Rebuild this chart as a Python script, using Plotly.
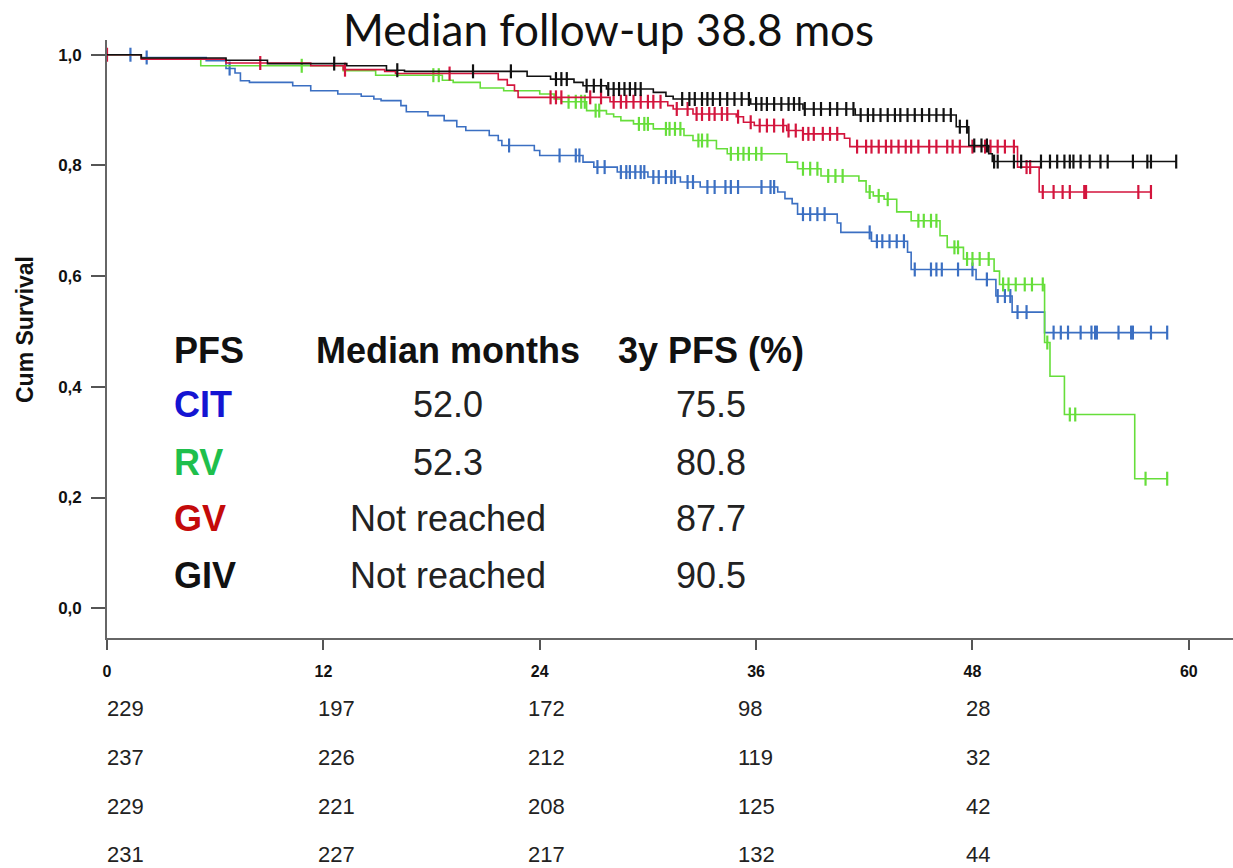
import bisect
import plotly.graph_objects as go

# ---------------- data ----------------
groups = ["CIT", "RV", "GV", "GIV"]
line_colors = ["#3b6fc2", "#66de3a", "#d3153d", "#111111"]
label_colors = ["#1414d2", "#1fbf4c", "#c40a0a", "#111111"]

cit_t = [0, 1.9, 5.5, 6.6, 7.1, 7.4, 7.9, 10.3, 11.3, 12.8, 14.1, 14.8, 15.2, 16.3, 16.6, 17.8, 18.7,
         19.4, 19.9, 21.2, 21.7, 21.9, 23.7, 24.0, 26.4, 27.0, 28.3, 30.0, 31.8, 32.9, 37.2, 37.6,
         38.0, 38.3, 40.5, 40.7, 42.4, 44.4, 44.6, 48.2, 49.3, 50.2, 52.0]
cit_s = [1.0, 0.995, 0.989, 0.975, 0.967, 0.953, 0.950, 0.944, 0.935, 0.929, 0.925, 0.920, 0.917, 0.908,
         0.897, 0.890, 0.881, 0.870, 0.863, 0.854, 0.845, 0.836, 0.827, 0.818, 0.806, 0.797, 0.788,
         0.779, 0.770, 0.761, 0.752, 0.740, 0.731, 0.712, 0.696, 0.679, 0.663, 0.643, 0.612, 0.594,
         0.564, 0.535, 0.498]
cit_cens = [1.3, 2.2, 6.8, 22.3, 25.1, 26.0, 26.2, 27.2, 27.6, 28.5, 28.8, 29.0, 29.3, 29.6, 29.8, 30.3,
            30.6, 31.0, 31.3, 31.5, 32.2, 32.5, 33.3, 33.7, 34.3, 34.6, 35.0, 36.3, 36.8, 37.0, 38.6,
            39.0, 39.4, 39.8, 42.3, 42.7, 43.0, 43.4, 43.8, 44.2, 44.8, 45.7, 46.0, 46.3, 47.2, 48.0,
            48.8, 49.4, 49.8, 50.1, 50.5, 51.0, 52.5, 52.9, 53.3, 54.0, 54.6, 54.8, 54.9, 56.1, 56.8,
            56.9, 57.9, 58.8]

rv_t = [0, 1.9, 5.2, 13.1, 14.9, 18.6, 19.2, 20.7, 22.0, 24.0, 24.8, 25.2, 26.6, 27.7, 28.1, 28.5, 29.2,
        30.3, 32.0, 32.5, 33.8, 34.4, 37.7, 38.3, 39.6, 41.7, 42.1, 42.5, 43.1, 43.8, 44.6, 46.2, 46.6,
        47.5, 49.2, 49.5, 52.0, 52.3, 53.1, 57.0]
rv_s = [1.0, 0.993, 0.980, 0.971, 0.963, 0.954, 0.950, 0.940, 0.935, 0.929, 0.920, 0.915, 0.899, 0.893,
        0.888, 0.881, 0.875, 0.866, 0.854, 0.845, 0.830, 0.821, 0.806, 0.794, 0.781, 0.772, 0.752,
        0.745, 0.739, 0.716, 0.700, 0.673, 0.652, 0.631, 0.609, 0.585, 0.480, 0.419, 0.350, 0.234]
rv_cens = [10.8, 18.1, 18.4, 25.6, 26.0, 26.3, 26.5, 27.1, 27.3, 29.5, 29.8, 30.0, 31.0, 31.2, 31.5, 31.8,
           32.8, 33.0, 33.3, 34.6, 35.0, 35.3, 35.6, 36.0, 36.3, 38.6, 39.0, 39.4, 40.0, 40.4, 40.8,
           42.3, 42.8, 43.3, 45.0, 45.3, 45.7, 46.0, 47.0, 47.2, 47.7, 48.0, 48.4, 48.9, 49.7, 50.0,
           50.4, 50.9, 51.3, 51.9, 52.15, 53.4, 53.7, 57.6, 58.8]

gv_t = [0, 1.9, 6.6, 11.3, 13.1, 15.4, 16.0, 21.7, 22.2, 22.6, 22.8, 27.9, 31.1, 31.4, 32.5, 34.9, 35.3,
        35.9, 37.7, 38.6, 40.9, 41.2, 50.5, 51.7]
gv_s = [1.0, 0.992, 0.985, 0.980, 0.973, 0.970, 0.966, 0.955, 0.945, 0.935, 0.923, 0.915, 0.908, 0.902,
        0.893, 0.888, 0.878, 0.872, 0.863, 0.857, 0.849, 0.834, 0.797, 0.752]
gv_cens = [0.0, 8.5, 13.2, 19.0, 24.6, 24.9, 25.2, 26.8, 27.4, 28.1, 28.5, 28.8, 29.2, 29.6, 30.0, 30.3,
           30.7, 31.6, 32.2, 32.7, 33.0, 33.4, 33.7, 34.1, 34.4, 35.0, 35.7, 36.2, 36.6, 37.0, 37.5,
           37.8, 38.2, 38.6, 38.9, 39.2, 39.7, 40.1, 40.5, 41.6, 42.1, 42.4, 42.8, 43.2, 43.5, 43.9,
           44.3, 44.6, 45.0, 45.6, 46.0, 46.6, 46.9, 47.3, 48.0, 48.7, 49.0, 49.4, 49.8, 50.3, 51.0,
           51.2, 51.9, 52.5, 53.0, 53.4, 54.2, 54.3, 57.2, 57.9]

giv_t = [0, 1.9, 6.6, 8.9, 13.3, 15.5, 16.5, 23.3, 24.6, 25.9, 26.4, 27.7, 30.3, 31.0, 31.4, 35.7, 38.6,
         41.5, 47.1, 47.8, 48.9, 49.1]
giv_s = [1.0, 0.994, 0.990, 0.984, 0.980, 0.972, 0.970, 0.961, 0.956, 0.950, 0.944, 0.938, 0.932, 0.925,
         0.920, 0.911, 0.902, 0.891, 0.870, 0.836, 0.821, 0.807]
giv_cens = [12.6, 16.1, 20.3, 22.4, 24.9, 25.2, 25.5, 26.6, 27.0, 27.4, 27.8, 28.1, 28.4, 28.7, 29.0,
            29.3, 29.6, 31.9, 32.3, 32.6, 33.0, 33.3, 33.6, 34.0, 34.4, 34.8, 35.2, 35.6, 36.0, 36.3,
            36.6, 37.0, 37.4, 37.8, 38.1, 38.4, 38.7, 39.2, 39.6, 40.1, 40.5, 41.0, 41.4, 41.8, 42.2,
            42.5, 42.9, 43.3, 43.7, 44.0, 44.4, 44.8, 45.2, 45.6, 46.0, 46.4, 46.8, 47.3, 47.7, 48.1,
            48.5, 48.8, 49.2, 49.4, 50.3, 50.7, 51.8, 52.3, 52.7, 53.1, 53.4, 53.6, 54.0, 54.5, 55.1,
            55.5, 56.9, 57.7, 57.9, 59.3]

step_times = [cit_t, rv_t, gv_t, giv_t]
step_surv = [cit_s, rv_s, gv_s, giv_s]
censor_times = [cit_cens, rv_cens, gv_cens, giv_cens]

median_months = ["52.0", "52.3", "Not reached", "Not reached"]
pfs_3y = ["75.5", "80.8", "87.7", "90.5"]

risk_times = [0, 12, 24, 36, 48]
at_risk = [
    [229, 197, 172, 98, 28],
    [237, 226, 212, 119, 32],
    [229, 221, 208, 125, 42],
    [231, 227, 217, 132, 44],
]

x_ticks = [0, 12, 24, 36, 48, 60]
y_ticks = [0.0, 0.2, 0.4, 0.6, 0.8, 1.0]
y_ticktext = ["0,0", "0,2", "0,4", "0,6", "0,8", "1,0"]

title_text = "Median follow-up 38.8 mos"
y_title = "Cum Survival"
header = ["PFS", "Median months", "3y PFS (%)"]


def surv_at(times, surv, t):
    i = bisect.bisect_right(times, t) - 1
    return surv[max(i, 0)]


# ---------------- layout geometry (pixels) ----------------
W, H = 1233, 868
ML, MR, MT, MB = 107, 0, 40, 230
PW, PH = W - ML - MR, H - MT - MB


def px_to_paper_x(px):
    return (px - ML) / PW


def px_to_paper_y(py):
    return (H - MB - py) / PH


# ---------------- figure ----------------
fig = go.Figure()
FONT = "Liberation Sans, Arial, sans-serif"

for g, c, ts, ss, cs in zip(groups, line_colors, step_times, step_surv, censor_times):
    end_t = max(cs[-1], ts[-1])
    fig.add_trace(go.Scatter(
        x=ts + [end_t], y=ss + [ss[-1]], mode="lines", line=dict(shape="hv", color=c, width=1.6),
        name=g, hoverinfo="skip", showlegend=False))
    fig.add_trace(go.Scatter(
        x=cs, y=[surv_at(ts, ss, t) for t in cs], mode="markers",
        marker=dict(symbol="line-ns-open", size=10, color=c, line=dict(width=2.2, color=c)),
        name=g + " censored", showlegend=False, cliponaxis=False))

annotations = []
# table (centres in pixels)
col_px = [172, 447.5, 711]
row_py = [350, 405, 462, 518, 575]
TABLE_SIZE = 36
annotations.append(dict(x=px_to_paper_x(col_px[0]), y=px_to_paper_y(row_py[0]), xref="paper", yref="paper",
                        text=header[0], showarrow=False, xanchor="left", yanchor="middle",
                        font=dict(family=FONT, size=TABLE_SIZE, color="#111", weight="bold")))
for k in (1, 2):
    annotations.append(dict(x=px_to_paper_x(col_px[k]), y=px_to_paper_y(row_py[0]), xref="paper",
                            yref="paper", text=header[k], showarrow=False, xanchor="center",
                            yanchor="middle",
                            font=dict(family=FONT, size=TABLE_SIZE, color="#111", weight="bold")))
for i, g in enumerate(groups):
    yy = px_to_paper_y(row_py[i + 1])
    annotations.append(dict(x=px_to_paper_x(col_px[0]), y=yy, xref="paper", yref="paper", text=g,
                            showarrow=False, xanchor="left", yanchor="middle",
                            font=dict(family=FONT, size=TABLE_SIZE, color=label_colors[i], weight="bold")))
    annotations.append(dict(x=px_to_paper_x(col_px[1]), y=yy, xref="paper", yref="paper",
                            text=median_months[i], showarrow=False, xanchor="center", yanchor="middle",
                            font=dict(family=FONT, size=TABLE_SIZE, color="#222")))
    annotations.append(dict(x=px_to_paper_x(col_px[2]), y=yy, xref="paper", yref="paper",
                            text=pfs_3y[i], showarrow=False, xanchor="center", yanchor="middle",
                            font=dict(family=FONT, size=TABLE_SIZE, color="#222")))

# numbers at risk
risk_xshift = [-2, -7, -14, -20, -8]
risk_row_py = [708, 757, 806, 855]
for r, row in enumerate(at_risk):
    for j, v in enumerate(row):
        annotations.append(dict(x=risk_times[j], y=px_to_paper_y(risk_row_py[r]), xref="x", yref="paper",
                                text=str(v), showarrow=False, xanchor="left", yanchor="middle",
                                xshift=risk_xshift[j],
                                font=dict(family=FONT, size=22, color="#222")))

# y axis title
annotations.append(dict(x=px_to_paper_x(25), y=px_to_paper_y(330), xref="paper", yref="paper",
                        text=y_title, textangle=-90, showarrow=False, xanchor="center", yanchor="middle",
                        font=dict(family=FONT, size=23, color="#111", weight="bold")))
# title
annotations.append(dict(x=px_to_paper_x(608.5), y=px_to_paper_y(29), xref="paper", yref="paper",
                        text=title_text, showarrow=False, xanchor="center", yanchor="middle",
                        font=dict(family="Lato, sans-serif", size=44, color="#111")))

fig.update_layout(
    width=W, height=H,
    margin=dict(l=ML, r=MR, t=MT, b=MB),
    paper_bgcolor="white", plot_bgcolor="white",
    showlegend=False,
    annotations=annotations,
    xaxis=dict(range=[0, 62.45], tickvals=x_ticks, ticktext=[str(v) for v in x_ticks],
               showgrid=False, zeroline=False, showline=True, linecolor="#666", linewidth=1.6,
               ticks="outside", ticklen=10, tickwidth=1.6, tickcolor="#555",
               ticklabelstandoff=8,
               tickfont=dict(family=FONT, size=16, color="#111", weight="bold")),
    yaxis=dict(range=[-0.0538, 1.0266], tickvals=y_ticks, ticktext=y_ticktext,
               showgrid=False, zeroline=False, showline=True, linecolor="#666", linewidth=1.6,
               ticks="outside", ticklen=14, tickwidth=1.6, tickcolor="#555",
               ticklabelstandoff=6,
               tickfont=dict(family=FONT, size=17, color="#111", weight="bold")),
)

fig.write_html("out.html", config={"displayModeBar": False},
               post_script="document.body.style.margin='0';document.body.style.overflow='hidden';")
